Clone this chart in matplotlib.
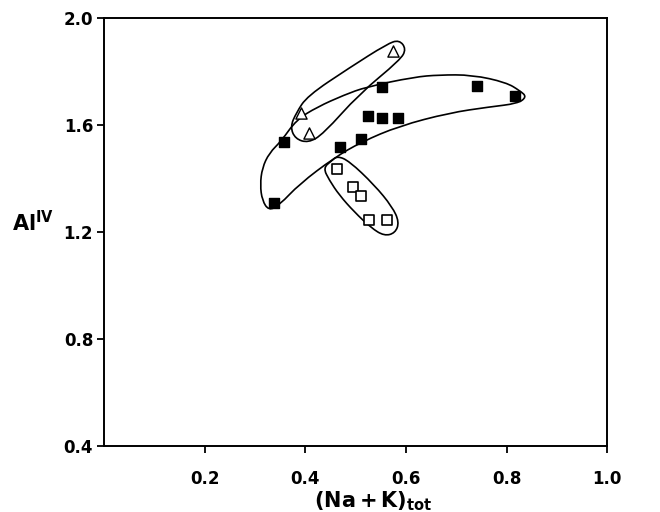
import numpy as np
import matplotlib.pyplot as plt
from matplotlib.path import Path
from matplotlib.patches import PathPatch

# filled squares
filled_x = [0.337, 0.358, 0.469, 0.510, 0.524, 0.553, 0.585, 0.553, 0.741, 0.816]
filled_y = [1.307, 1.538, 1.517, 1.547, 1.635, 1.625, 1.625, 1.743, 1.747, 1.71]

# open triangles
tri_x = [0.575, 0.391, 0.408]
tri_y = [1.878, 1.644, 1.569]

# open squares
open_x = [0.462, 0.494, 0.510, 0.527, 0.562]
open_y = [1.434, 1.369, 1.335, 1.245, 1.245]

# hand-drawn group outlines (data coords)
banana_x = [0.327, 0.314, 0.310, 0.314, 0.328, 0.352, 0.382, 0.4235, 0.477, 0.521,
            0.616, 0.666, 0.7316, 0.799, 0.827, 0.840, 0.822, 0.765, 0.686, 0.5865,
            0.511, 0.457, 0.388, 0.348]
banana_y = [1.280, 1.318, 1.376, 1.439, 1.495, 1.540, 1.619, 1.667, 1.712, 1.742,
            1.779, 1.787, 1.787, 1.759, 1.727, 1.705, 1.680, 1.667, 1.645, 1.596,
            1.536, 1.477, 1.379, 1.300]

tri_env_x = [0.5865, 0.6004, 0.5885, 0.507, 0.4354, 0.4056, 0.3797, 0.3698, 0.3817,
             0.4036, 0.487, 0.5626]
tri_env_y = [1.918, 1.884, 1.843, 1.716, 1.566, 1.533, 1.548, 1.593, 1.645, 1.708,
             1.813, 1.903]

open_env_x = [0.4354, 0.4513, 0.4632, 0.487, 0.5368, 0.5726, 0.5865, 0.5785, 0.5567,
              0.5308, 0.497, 0.4672, 0.4473]
open_env_y = [1.439, 1.465, 1.484, 1.465, 1.376, 1.294, 1.237, 1.196, 1.185,
              1.215, 1.275, 1.338, 1.394]


def closed_outline(xs, ys):
    # quadratic bezier through midpoints -> smooth closed curve
    pts = np.column_stack([xs, ys])
    n = len(pts)
    mids = (pts + np.roll(pts, -1, axis=0)) / 2
    verts = [mids[-1]]
    codes = [Path.MOVETO]
    for i in range(n):
        verts += [pts[i], mids[i]]
        codes += [Path.CURVE3, Path.CURVE3]
    return Path(verts, codes)


fig = plt.figure(figsize=(6.6, 5.12), dpi=100)
ax = fig.add_axes([0.158, 0.129, 0.762, 0.836])

for xs, ys in [(banana_x, banana_y), (tri_env_x, tri_env_y), (open_env_x, open_env_y)]:
    ax.add_patch(PathPatch(closed_outline(xs, ys), fill=False, lw=1.2, ec='black'))

ax.scatter(filled_x, filled_y, marker='s', s=55, c='black', zorder=3)
ax.scatter(open_x, open_y, marker='s', s=55, facecolors='white', edgecolors='black',
           linewidths=1.2, zorder=3)
ax.scatter(tri_x, tri_y, marker='^', s=65, facecolors='white', edgecolors='black',
           linewidths=1.0, zorder=3)

ax.set_xlim(0, 1.0)
ax.set_ylim(0.4, 2.0)
ax.set_xticks([0.2, 0.4, 0.6, 0.8, 1.0])
ax.set_xticklabels(['0.2', '0.4', '0.6', '0.8', '1.0'])
ax.set_yticks([0.4, 0.8, 1.2, 1.6, 2.0])
ax.set_yticklabels(['0.4', '0.8', '1.2', '1.6', '2.0'])
ax.tick_params(direction='out', length=5, width=1.3, labelsize=12)
ax.tick_params(axis='x', pad=12)
ax.tick_params(axis='y', pad=3)
for lbl in ax.get_xticklabels() + ax.get_yticklabels():
    lbl.set_fontweight('bold')
for sp in ax.spines.values():
    sp.set_linewidth(1.4)

fig.text(0.565, 0.022, r'$\mathbf{(Na+K)}_{\mathbf{tot}}$', fontsize=15,
         ha='center', va='center')
fig.text(0.05, 0.566, r'$\mathbf{Al}^{\mathbf{IV}}$', fontsize=15,
         ha='center', va='center')

plt.savefig('out.png')
